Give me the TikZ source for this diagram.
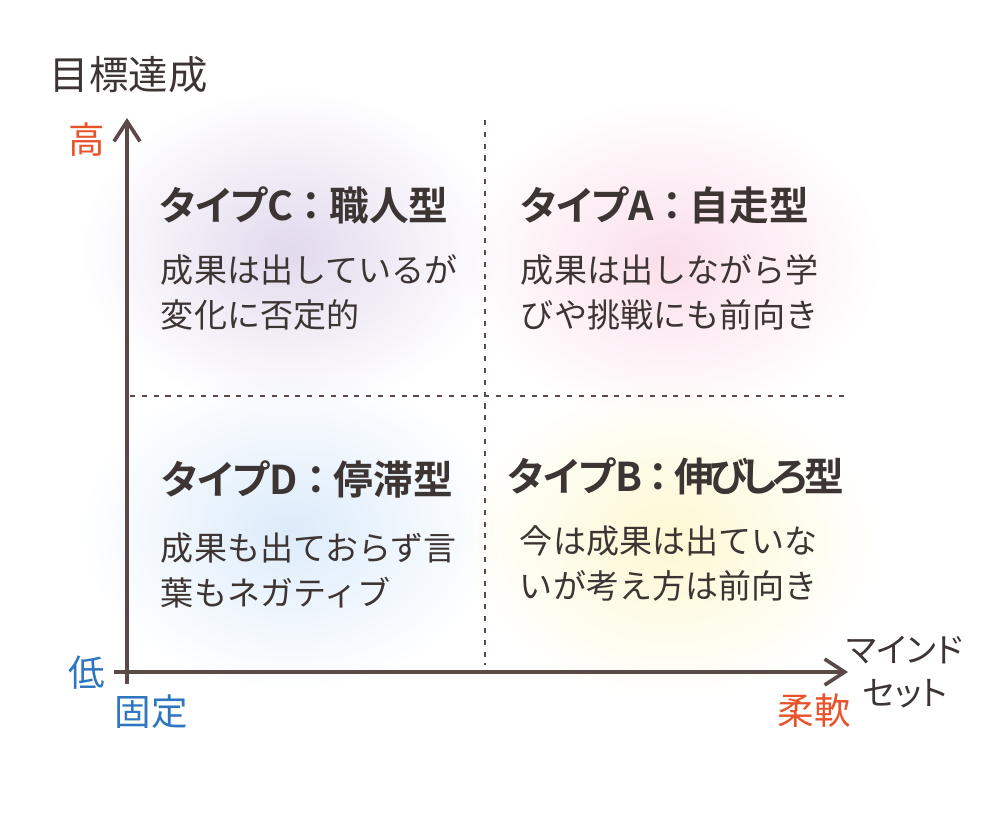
\documentclass[tikz,border=0pt]{standalone}
\usepackage{fontspec}
\setmainfont{Noto Sans CJK JP}
\newfontfamily\titlefont{Noto Sans CJK JP Bold}[RawFeature=+palt]
\newfontfamily\kanafont{Noto Sans CJK JP}[RawFeature=+palt]
\usetikzlibrary{arrows.meta,fadings}

\definecolor{ink}{RGB}{61,53,51}
\definecolor{axisbrown}{RGB}{91,74,71}
\definecolor{highred}{RGB}{232,83,43}
\definecolor{lowblue}{RGB}{47,117,192}
\definecolor{glowC}{RGB}{226,217,237}
\definecolor{glowA}{RGB}{250,222,234}
\definecolor{glowD}{RGB}{220,235,250}
\definecolor{glowB}{RGB}{253,248,210}

\tikzfading[name=glow, inner color=transparent!0, outer color=transparent!100]

\begin{document}
\begin{tikzpicture}[x=0.025cm, y=-0.025cm,
    axis/.style={draw=axisbrown, line width=2.6pt},
    divider/.style={draw=axisbrown, line width=2pt, dash pattern=on 3.6pt off 4.8pt},
    title/.style={anchor=west, inner sep=0pt, text=ink, font=\titlefont\fontsize{28.2}{33}\selectfont},
    body/.style={anchor=west, align=left, text=ink, font=\fontsize{23.5}{32}\selectfont},
    axlabel/.style={font=\fontsize{26}{30}\selectfont}]
      \useasboundingbox (0,0) rectangle (1000,816);
      % soft background glows
      \fill[glowC, path fading=glow] (290,250) ellipse (210 and 160);
      \fill[glowA, path fading=glow] (670,260) ellipse (210 and 160);
      \fill[glowD, path fading=glow] (290,530) ellipse (210 and 160);
      \fill[glowB, path fading=glow] (670,540) ellipse (210 and 160);
      % axes
      \coordinate (origin) at (127,672);
      \coordinate (ybot) at (127,684);
      \coordinate (ytop) at (127,118);
      \coordinate (xbeg) at (114,672);
      \coordinate (xend) at (848,672);
      \draw[axis, -{Straight Barb[length=0.5cm, width=0.65cm]}] (ybot) -- (ytop);
      \draw[axis, -{Straight Barb[length=0.5cm, width=0.65cm]}] (xbeg) -- (xend);
      \coordinate (vtop) at (485,120);
      \coordinate (vbot) at (485,665);
      \coordinate (hleft) at (130,396);
      \coordinate (hright) at (845,396);
      \draw[divider] (vtop) -- (vbot);
      \draw[divider] (hleft) -- (hright);
      % axis labels
      \node[axlabel, text=ink, anchor=west, font=\fontsize{28}{30}\selectfont] (goal) at (45,75) {目標達成};
      \node[axlabel, text=highred] (high) at (87,140) {高};
      \node[axlabel, text=lowblue] (low) at (87,673) {低};
      \node[axlabel, text=lowblue] (fixed) at (151,712) {固定};
      \node[axlabel, text=highred] (flex) at (814,711) {柔軟};
      \node[text=ink, align=center, font=\kanafont\fontsize{24}{30}\selectfont] (mind) at (905,672) {マインド\\セット};
      % quadrants
      \node[title] (typeC) at (159,205) {タイプC\makebox[0.9em]{：}職人型};
      \node[body] (textC) at (156,292) {成果は出しているが\\変化に否定的};
      \node[title] (typeA) at (520,205) {タイプA\makebox[0.9em]{：}自走型};
      \node[body] (textA) at (516,292) {成果は出しながら学\\びや挑戦にも前向き};
      \node[title] (typeD) at (161,479) {タイプD\makebox[0.9em]{：}停滞型};
      \node[body] (textD) at (156,570) {成果も出ておらず言\\葉もネガティブ};
      \node[title] (typeB) at (507,476) {タイプB\makebox[0.8em]{：}伸\kern-.12emび\kern-.15emし\kern-.12emろ\kern-.08em型};
      \node[body] (textB) at (515,563) {今は成果は出ていな\\いが考え方は前向き};
    \end{tikzpicture}
\end{document}
